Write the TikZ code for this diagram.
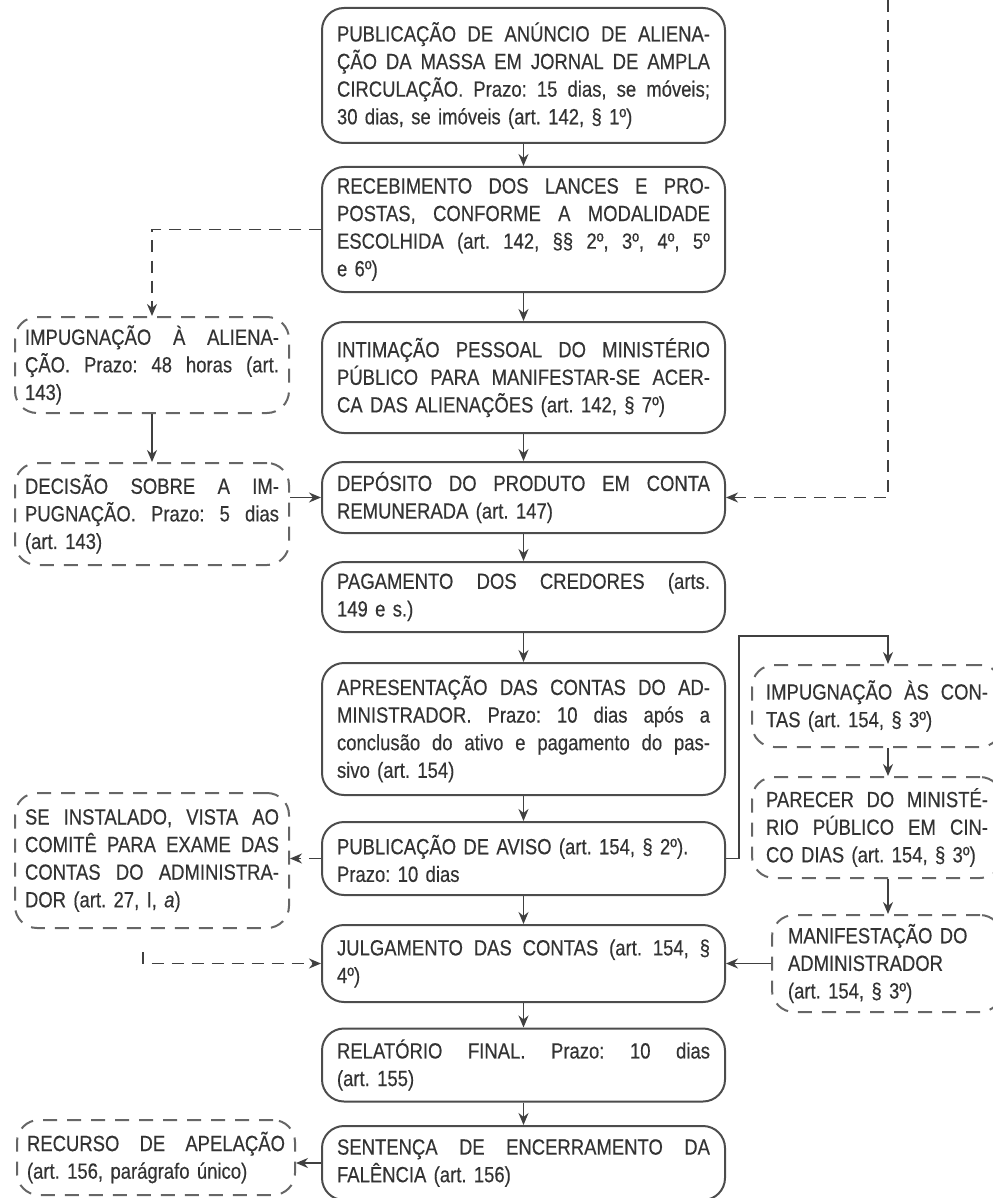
\documentclass[tikz,border=0pt]{standalone}
\usepackage{fontspec}
\usepackage{graphicx}
\setmainfont[FakeStretch=0.84,FakeBold=0.4]{Liberation Sans}
\usetikzlibrary{arrows.meta}
\frenchspacing

% full (justified) line of a box
\newcommand\jl[1]{\noindent\setbox0\hbox{\spaceskip=.25em plus 1fil minus .05em\relax#1}%
	\ifdim\wd0>\hsize\resizebox{\hsize}{\height}{\copy0}\else\hbox to\hsize{\unhcopy0}\fi}

\begin{document}
\begin{tikzpicture}[x=0.5pt, y=-0.5pt, >=Stealth, line width=1pt,
	etapa/.style={draw=black!70, rounded corners=11pt, text=black!80, align=left,
		text width=186.5pt, inner xsep=7.5pt, inner ysep=3pt, font=\fontsize{11}{13.8}\selectfont},
	incidente/.style={etapa, draw=black!60, dash pattern=on 7pt off 5pt, text width=127pt, inner xsep=5pt},
	lateral/.style={incidente, text width=111pt, inner xsep=7pt},
	arr/.style={-{Stealth[length=6pt,width=5pt]}, line width=0.8pt, draw=black!75},
	darr/.style={arr, dash pattern=on 6pt off 4pt}]
	
	\useasboundingbox (0,0) rectangle (992,1198);
	
	\coordinate (topo) at (888,0);
	\coordinate (dobra) at (739,636);
	\coordinate (ponta) at (143,952);
	
	% coluna principal
	\node[etapa, minimum height=67.5pt] (pub) at (523.5,75.5) {%
		\jl{PUBLICAÇÃO DE ANÚNCIO DE ALIENA-}\\
		\jl{ÇÃO DA MASSA EM JORNAL DE AMPLA}\\
		\jl{CIRCULAÇÃO. Prazo: 15 dias, se móveis;}\\
		30 dias, se imóveis (art. 142, § 1º)};
	\node[etapa, minimum height=62.5pt] (rec) at (523.5,229.5) {%
		\jl{RECEBIMENTO DOS LANCES E PRO-}\\
		\jl{POSTAS, CONFORME A MODALIDADE}\\
		\jl{ESCOLHIDA (art. 142, §§ 2º, 3º, 4º, 5º}\\
		e 6º)};
	\node[etapa, minimum height=55.5pt] (int) at (523.5,377.5) {%
		\jl{INTIMAÇÃO PESSOAL DO MINISTÉRIO}\\
		\jl{PÚBLICO PARA MANIFESTAR-SE ACER-}\\
		CA DAS ALIENAÇÕES (art. 142, § 7º)};
	\node[etapa, minimum height=35.5pt] (dep) at (523.5,497.5) {%
		\jl{DEPÓSITO DO PRODUTO EM CONTA}\\
		REMUNERADA (art. 147)};
	\node[etapa, minimum height=35pt] (pag) at (523.5,597) {%
		\jl{PAGAMENTO DOS CREDORES (arts.}\\
		149 e s.)};
	\node[etapa, minimum height=66pt] (apr) at (523.5,729) {%
		\jl{APRESENTAÇÃO DAS CONTAS DO AD-}\\
		\jl{MINISTRADOR. Prazo: 10 dias após a}\\
		\jl{conclusão do ativo e pagamento do pas-}\\
		sivo (art. 154)};
	\node[etapa, minimum height=36.5pt] (avi) at (523.5,858.5) {%
		PUBLICAÇÃO DE AVISO (art. 154, § 2º).\\
		Prazo: 10 dias};
	\node[etapa, minimum height=38.5pt] (jul) at (523.5,963.5) {%
		\jl{JULGAMENTO DAS CONTAS (art. 154, §}\\
		4º)};
	\node[etapa, minimum height=36.5pt] (rel) at (523.5,1065) {%
		\jl{RELATÓRIO FINAL. Prazo: 10 dias}\\
		(art. 155)};
	\node[etapa, minimum height=37pt] (sen) at (523.5,1163) {%
		\jl{SENTENÇA DE ENCERRAMENTO DA}\\
		FALÊNCIA (art. 156)};
	
	% coluna da esquerda
	\node[incidente, minimum height=48pt] (ial) at (152,365) {%
		\jl{IMPUGNAÇÃO À ALIENA-}\\
		\jl{ÇÃO. Prazo: 48 horas (art.}\\
		143)};
	\node[incidente, minimum height=51pt] (dec) at (152,514) {%
		\jl{DECISÃO SOBRE A IM-}\\
		\jl{PUGNAÇÃO. Prazo: 5 dias}\\
		(art. 143)};
	\node[incidente, minimum height=67.5pt] (com) at (152,860.5) {%
		\jl{SE INSTALADO, VISTA AO}\\
		\jl{COMITÊ PARA EXAME DAS}\\
		\jl{CONTAS DO ADMINISTRA-}\\
		DOR (art. 27, I, \textit{a})};
	\node[incidente, text width=129pt, minimum height=37.5pt] (ape) at (156,1157.5) {%
		\jl{RECURSO DE APELAÇÃO}\\
		(art. 156, parágrafo único)};
	
	% coluna da direita
	\node[lateral, minimum height=41pt] (ico) at (877,706) {%
		\jl{IMPUGNAÇÃO ÀS CON-}\\
		TAS (art. 154, § 3º)};
	\node[lateral, minimum height=50.5pt] (par) at (877,827.5) {%
		\jl{PARECER DO MINISTÉ-}\\
		\jl{RIO PÚBLICO EM CIN-}\\
		CO DIAS (art. 154, § 3º)};
	\node[lateral, text width=99pt, inner xsep=8pt, minimum height=48.5pt] (man) at (887,963.5) {%
		MANIFESTAÇÃO DO\\
		ADMINISTRADOR\\
		(art. 154, § 3º)};
	
	% fluxo principal
	\draw[arr] (pub) -- (rec);
	\draw[arr] (rec) -- (int);
	\draw[arr] (int) -- (dep);
	\draw[arr] (dep) -- (pag);
	\draw[arr] (pag) -- (apr);
	\draw[arr] (apr) -- (avi);
	\draw[arr] (avi) -- (jul);
	\draw[arr] (jul) -- (rel);
	\draw[arr] (rel) -- (sen);
	
	% ramos
	\draw[darr] (rec.west) -| (ial.north);
	\draw[arr] (ial) -- (dec);
	\draw[arr] (dec.east |- dep.west) -- (dep.west);
	\draw[darr] (topo) |- (dep.east);
	\draw[darr] (avi.west) -- (com.east |- avi.west);
	\draw[arr] (avi.east) -| (dobra) -| (ico.north -| topo);
	\draw[arr] (ico.south -| topo) -- (par.north -| topo);
	\draw[arr] (par.south -| topo) -- (man.north -| topo);
	\draw[arr] (man.west |- jul.east) -- (jul.east);
	\draw[darr] (ponta) |- (jul.west);
	\draw[arr] (sen.west) -- (ape.east |- sen.west);
	
\end{tikzpicture}
\end{document}
